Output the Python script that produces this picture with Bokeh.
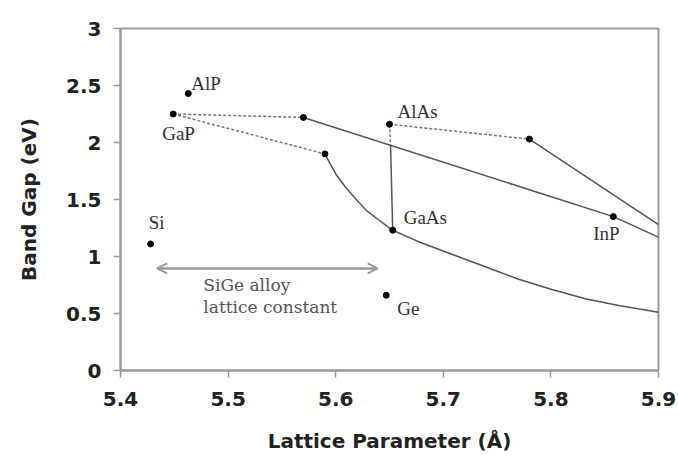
from bokeh.plotting import figure
from bokeh.models import ColumnDataSource, FixedTicker, Arrow, OpenHead, LabelSet, Label
from bokeh.embed import file_html
from bokeh.resources import INLINE

# --- data ---
compounds = ["AlP", "GaP", "AlAs", "GaAs", "InP", "Si", "Ge"]
lattice = [5.463, 5.449, 5.650, 5.653, 5.858, 5.428, 5.647]
band_gap = [2.43, 2.25, 2.16, 1.23, 1.35, 1.11, 0.66]
label_dx = [3, -11, 8, 11, -20, -2, 11]     # px offsets of names from points
label_dy = [10, -19, 13, 13, -17, 21, -13]

bend_x = [5.570, 5.590, 5.780]
bend_y = [2.22, 1.90, 2.03]

# dashed (indirect gap) segments
dash_x = [[5.449, 5.570], [5.449, 5.590], [5.650, 5.780], [5.650, 5.651]]
dash_y = [[2.25, 2.22], [2.25, 1.90], [2.16, 2.03], [2.16, 1.97]]

# solid (direct gap) curves
solid1_x = [5.570, 5.858, 5.900]
solid1_y = [2.22, 1.35, 1.17]
solid2_x = [5.780, 5.900]
solid2_y = [2.03, 1.28]
solid3_x = [5.590, 5.595, 5.601, 5.609, 5.618, 5.629, 5.640, 5.653,
            5.677, 5.708, 5.739, 5.770, 5.801, 5.832, 5.863, 5.900]
solid3_y = [1.90, 1.81, 1.71, 1.61, 1.51, 1.40, 1.32, 1.23,
            1.13, 1.02, 0.91, 0.80, 0.71, 0.63, 0.57, 0.51]
vert_x = [5.651, 5.653]
vert_y = [1.97, 1.23]

sige_x = [5.434, 5.639]
sige_y = 0.895
sige_text = ["SiGe alloy", "lattice constant"]
sige_text_x = 5.477
sige_text_y = [0.746, 0.553]

xticks = [5.4, 5.5, 5.6, 5.7, 5.8, 5.9]
xtick_labels = ["5.4", "5.5", "5.6", "5.7", "5.8", "5.9"]
yticks = [0, 0.5, 1, 1.5, 2, 2.5, 3]
ytick_labels = ["0", "0.5", "1", "1.5", "2", "2.5", "3"]

# --- figure ---
p = figure(width=678, height=459, x_range=(5.4, 5.9), y_range=(0, 3),
           output_backend="svg", toolbar_location=None,
           min_border_left=120, min_border_right=20,
           min_border_top=28, min_border_bottom=89)
p.xgrid.visible = False
p.ygrid.visible = False
p.outline_line_color = "#9a9a9a"
p.outline_line_width = 2
p.background_fill_color = "white"
p.border_fill_color = "white"

axis_col = "#9a9a9a"
for ax in (p.xaxis[0], p.yaxis[0]):
    ax.axis_line_color = axis_col
    ax.axis_line_width = 2
    ax.major_tick_line_color = axis_col
    ax.major_tick_line_width = 1.5
    ax.major_tick_out = 7
    ax.major_tick_in = 0
    ax.minor_tick_line_color = None
    ax.major_label_text_font = "DejaVu Sans"
    ax.major_label_text_font_style = "bold"
    ax.major_label_text_font_size = "20px"
    ax.major_label_text_color = "#222222"
    ax.axis_label_text_font = "DejaVu Sans"
    ax.axis_label_text_font_style = "bold"
    ax.axis_label_text_font_size = "20px"
    ax.axis_label_text_color = "#222222"

p.xaxis.ticker = FixedTicker(ticks=xticks)
p.xaxis.major_label_overrides = {t: l for t, l in zip(xticks, xtick_labels)}
p.yaxis.ticker = FixedTicker(ticks=yticks)
p.yaxis.major_label_overrides = {t: l for t, l in zip(yticks, ytick_labels)}
p.xaxis.axis_label = "Lattice Parameter (Å)"
p.yaxis.axis_label = "Band Gap (eV)"
p.xaxis.major_label_standoff = 14
p.yaxis.major_label_standoff = 12
p.xaxis.axis_label_standoff = 20
p.yaxis.axis_label_standoff = 22

line_col = "#555555"
p.multi_line(dash_x, dash_y, line_color="#777777", line_width=1.5, line_dash="3 2")
p.line(solid1_x, solid1_y, line_color=line_col, line_width=1.5)
p.line(solid2_x, solid2_y, line_color=line_col, line_width=1.5)
p.line(solid3_x, solid3_y, line_color=line_col, line_width=1.5, line_join="round")
p.line(vert_x, vert_y, line_color=line_col, line_width=1.5)

p.scatter(bend_x, bend_y, size=6, color="black")
src = ColumnDataSource(dict(x=lattice, y=band_gap, name=compounds,
                            dx=label_dx, dy=label_dy))
p.scatter("x", "y", source=src, size=6, color="black")
p.add_layout(LabelSet(x="x", y="y", text="name", x_offset="dx", y_offset="dy",
                      source=src, text_font="DejaVu Serif", text_font_size="19px",
                      text_color="#333333", text_baseline="middle", text_align="left"))

p.add_layout(Arrow(start=OpenHead(size=10, line_color="#999999", line_width=2),
                   end=OpenHead(size=10, line_color="#999999", line_width=2),
                   x_start=sige_x[0], y_start=sige_y, x_end=sige_x[1], y_end=sige_y,
                   line_color="#999999", line_width=2.5))
for t, yy in zip(sige_text, sige_text_y):
    p.add_layout(Label(x=sige_text_x, y=yy, text=t, text_font="DejaVu Serif",
                       text_font_size="17px", text_color="#555555",
                       text_baseline="middle", text_align="left"))

open("out.html", "w").write(file_html(p, INLINE))
